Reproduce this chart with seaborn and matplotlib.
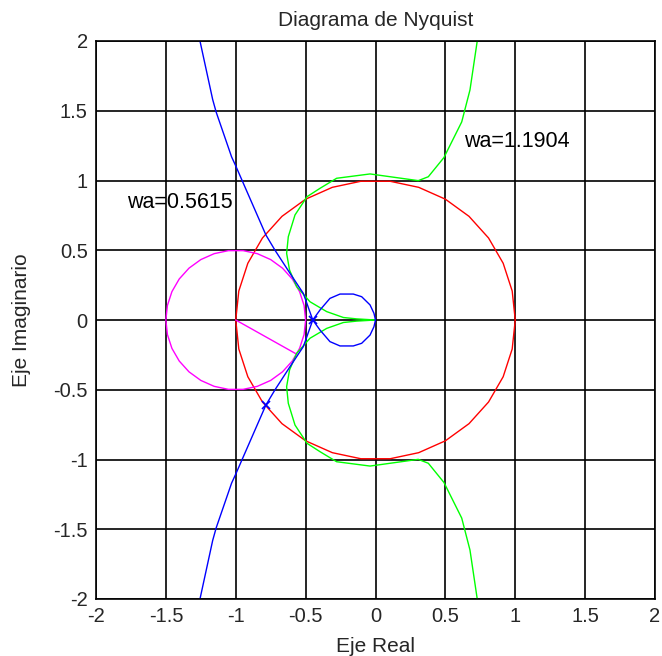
import numpy as np
import pandas as pd
import matplotlib
matplotlib.use("Agg")
import matplotlib.pyplot as plt
import seaborn as sns

# Nyquist locus of the loop with the lag (positive-frequency branch)
blue_re = [-1.33, -1.256, -1.165, -1.14, -1.03, -0.998, -0.784, -0.719, -0.612,
           -0.516, -0.449, -0.397, -0.326, -0.254, -0.159, -0.099, -0.039, -0.011, 0.0]
blue_im = [-2.3, -2.0, -1.58, -1.49, -1.17, -1.10, -0.609, -0.50, -0.335,
           -0.19, 0.0, 0.072, 0.155, 0.186, 0.186, 0.167, 0.108, 0.048, 0.0]

# Nyquist locus of the second loop (upper branch)
green_re = [0.77, 0.728, 0.676, 0.617, 0.49, 0.378, 0.306, -0.039, -0.278, -0.397,
            -0.49, -0.576, -0.624, -0.636, -0.615, -0.564, -0.469, -0.349, -0.23,
            -0.135, 0.0]
green_im = [2.3, 2.0, 1.649, 1.42, 1.165, 1.027, 0.999, 1.047, 1.016, 0.944,
            0.884, 0.753, 0.597, 0.478, 0.358, 0.239, 0.131, 0.06, 0.018,
            0.008, 0.0]

# unit circle and the circle of radius 0.5 around the critical point
unit_center, unit_radius = (0.0, 0.0), 1.0
crit_center, crit_radius = (-1.0, 0.0), 0.5
circle_step_deg = 12

# radius from the critical point to the closest approach
radius_re = [-1.0, -0.564]
radius_im = [0.0, -0.245]

# crossover markers on the blue locus
mark_re = [-0.784, -0.449]
mark_im = [-0.609, 0.0]

labels = ["wa=0.5615", "wa=1.1904"]
label_re = [-1.78, 0.63]
label_im = [0.84, 1.28]

ticks = [-2, -1.5, -1, -0.5, 0, 0.5, 1, 1.5, 2]
tick_text = ["-2", "-1.5", "-1", "-0.5", "0", "0.5", "1", "1.5", "2"]

sns.set_style("white")
plt.rcParams["font.family"] = ["Liberation Sans", "DejaVu Sans"]

fig = plt.figure(figsize=(6.62, 6.56), dpi=100)
ax = fig.add_axes([96 / 662, 1 - 599 / 656, (655 - 96) / 662, (599 - 41) / 656])


def circle_frame(center, radius):
    ang = np.deg2rad(np.arange(0, 360 + circle_step_deg, circle_step_deg))
    return pd.DataFrame({"re": center[0] + radius * np.cos(ang),
                         "im": center[1] + radius * np.sin(ang)})


lw = 1.0
for df, col in [(circle_frame(unit_center, unit_radius), "#ff0000"),
                (circle_frame(crit_center, crit_radius), "#ff00ff")]:
    sns.lineplot(data=df, x="re", y="im", sort=False, estimator=None,
                 color=col, lw=lw, ax=ax)

sns.lineplot(x=radius_re, y=radius_im, sort=False, estimator=None,
             color="#ff00ff", lw=lw, ax=ax)

for re, im, col in [(green_re, green_im, "#00ff00"), (blue_re, blue_im, "#0000ff")]:
    re = np.asarray(re)
    im = np.asarray(im)
    sns.lineplot(x=re, y=im, sort=False, estimator=None, color=col, lw=lw, ax=ax)
    sns.lineplot(x=re, y=-im, sort=False, estimator=None, color=col, lw=lw, ax=ax)

ax.plot(mark_re, mark_im, linestyle="none", marker="x", color="#0000ff",
        markersize=6, markeredgewidth=1.2)

for t, x, y in zip(labels, label_re, label_im):
    ax.text(x, y, t, fontsize=15.5, ha="left", va="center", color="black")

ax.set_xlim(-2, 2)
ax.set_ylim(-2, 2)
ax.set_xticks(ticks)
ax.set_yticks(ticks)
ax.set_xticklabels(tick_text, fontsize=14.5)
ax.set_yticklabels(tick_text, fontsize=14.5)
ax.tick_params(length=0, pad=6)
ax.grid(True, color="black", linewidth=1.2, linestyle="-")
ax.set_axisbelow(True)
for s in ax.spines.values():
    s.set_color("black")
    s.set_linewidth(1.2)

ax.set_title("Diagrama de Nyquist", fontsize=15, pad=11)
ax.set_xlabel("Eje Real", fontsize=15, labelpad=8)
ax.set_ylabel("Eje Imaginario", fontsize=15, labelpad=16)

fig.savefig("out.png", dpi=100, facecolor="white")
